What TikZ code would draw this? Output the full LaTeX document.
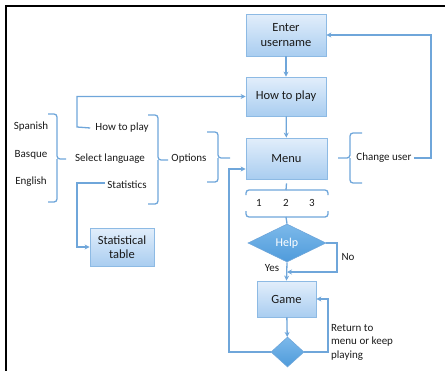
\documentclass[tikz,border=0pt]{standalone}
\usepackage{fontspec}
\setmainfont{Carlito}
\usetikzlibrary{shapes.geometric,arrows.meta}
\definecolor{ln}{HTML}{6FA6DA}
\definecolor{boxline}{HTML}{8DBAE4}
\definecolor{boxtop}{HTML}{E2EEFB}
\definecolor{boxbot}{HTML}{A9CDF0}
\definecolor{dtop}{HTML}{7CB9EA}
\definecolor{dbot}{HTML}{4F9BDB}
\definecolor{txt}{HTML}{1A1A1A}
\begin{document}
\begin{tikzpicture}[x=1pt,y=-1pt,
  box/.style={draw=boxline, line width=0.8pt, top color=boxtop, bottom color=boxbot, font=\fontsize{12.5}{14.5}\selectfont, text=txt, align=center, inner sep=0pt},
  dia/.style={diamond, draw=ln, line width=0.6pt, top color=dtop, bottom color=dbot, inner sep=0pt},
  lbl/.style={font=\fontsize{11}{13}\selectfont, text=txt, inner sep=1pt},
  conn/.style={draw=ln, line width=1.3pt},
  arr/.style={conn, -{Stealth[length=5pt,width=5pt]}},
  brace/.style={conn, rounded corners=3pt}]
\useasboundingbox (0,0) rectangle (445,370);
\draw[line width=2pt] (6,371) -- (6,6) -- (446,6);
% boxes
\node[box, minimum width=80pt, minimum height=42pt] (enter) at (286,35) {Enter\\username};
\node[box, minimum width=80pt, minimum height=39pt] (howbox) at (286,96.5) {How to play};
\node[box, minimum width=81pt, minimum height=41pt] (menu) at (286.5,158.5) {Menu};
\node[box, minimum width=64pt, minimum height=38pt] (stat) at (122,247) {Statistical\\table};
\node[box, minimum width=59pt, minimum height=36pt] (game) at (286.5,299) {Game};
\node[dia, minimum width=78pt, minimum height=38pt, text=white, font=\fontsize{12}{14}\selectfont] (help) at (287,243) {Help};
\node[dia, minimum width=33pt, minimum height=30pt] (dec) at (287.5,352) {};
% labels
\node[lbl] (spanish) at (31,127) {Spanish};
\node[lbl] (basque) at (31,155) {Basque};
\node[lbl] (english) at (31,182) {English};
\node[lbl] (howsmall) at (122,128) {How to play};
\node[lbl] (sellang) at (110,159) {Select language};
\node[lbl] (stats) at (127,185) {Statistics};
\node[lbl] (options) at (189,159) {Options};
\node[lbl] (cu) at (384,158) {Change user};
\node[lbl] (n1) at (259,203) {1};
\node[lbl] (n2) at (286,203) {2};
\node[lbl] (n3) at (312,203) {3};
\node[lbl] (yes) at (272,268) {Yes};
\node[lbl] (no) at (348,257) {No};
\node[lbl, anchor=west, align=left, font=\fontsize{11}{13.5}\selectfont] (ret) at (330,342) {Return to\\menu or keep\\playing};
\coordinate (merge) at (287,272);
% connectors
\draw[arr] (enter) -- (howbox);
\draw[arr] (howbox) -- (menu);
\draw[arr] ([xshift=-4pt]howsmall.west) -- (77,127) |- (howbox.west);
\draw[arr] ([xshift=-1pt,yshift=2pt]stats.west) -- (77,183) |- (stat.west);
\draw[arr] ([xshift=1pt]cu.east) -- (431,158) |- (enter.east);
\draw[arr] (dec.west) -- (229,352) |- ([yshift=-10.5pt]menu.west);
\draw[arr] (dec.east) -- (328,352) |- (game.east);
\draw[arr] (help.east) -- (337,243) |- (merge);
\draw[arr] (help.south) -- (game.north);
\draw[arr] (game) -- (dec);
% braces
\draw[brace] (48,114) -| (57,159) -- (66,159);
\draw[brace] (48,202) -| (57,159);
\draw[brace] (148,115) -| (158,160) -- (168,160);
\draw[brace] (148,204) -| (158,160);
\draw[brace] (207,132) -| (218,158) -- (230,158);
\draw[brace] (207,182) -| (218,158);
\draw[brace] (362,133) -| (350,158) -- (338,158);
\draw[brace] (362,183) -| (350,158);
\draw[brace] (246,195) |- (286,190);
\draw[brace] (328,195) |- (286,190);
\draw[conn] ([yshift=-4pt]menu.south) -- (286,190);
\draw[brace] (246,211) |- (286,217);
\draw[brace] (328,211) |- (286,217);
\draw[conn] (286,217) -- (help.north);
\end{tikzpicture}
\end{document}
